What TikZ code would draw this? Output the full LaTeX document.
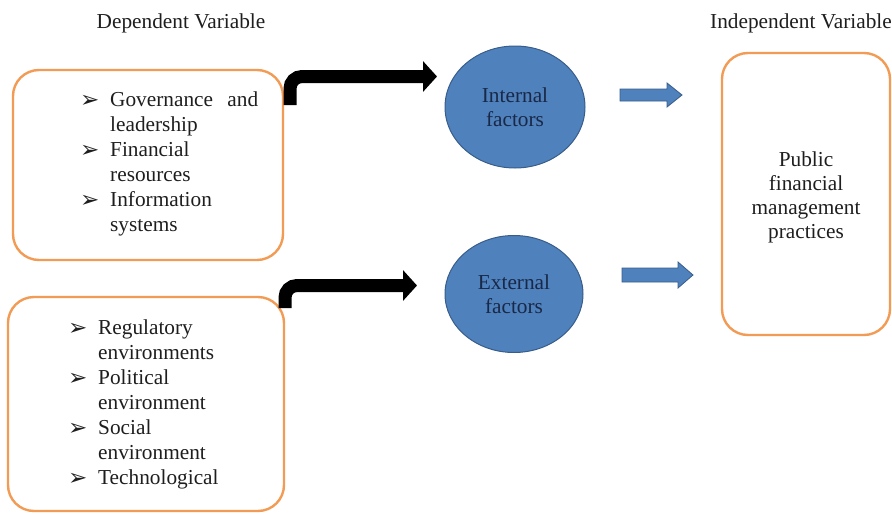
\documentclass[tikz,border=0pt]{standalone}
\usepackage{fontspec}
\setmainfont{Liberation Serif}
\newfontfamily\dingfont{DejaVu Sans}
\usetikzlibrary{arrows.meta,shapes.geometric}
\definecolor{boxorange}{RGB}{242,155,85}
\definecolor{ellblue}{RGB}{79,129,189}
\definecolor{ellborder}{RGB}{56,93,138}
\definecolor{elltext}{RGB}{25,40,70}
\definecolor{txt}{RGB}{30,30,30}
\tikzset{
  varbox/.style={draw=boxorange, line width=2.4pt, rounded corners=26pt},
  factor/.style={ellipse, fill=ellblue, draw=ellborder, line width=1pt, inner sep=0pt,
                 text=elltext, align=center, font=\fontsize{21.3}{24}\selectfont},
  line/.style={anchor=base west, inner sep=0pt, text=txt, font=\fontsize{21.3}{25}\selectfont},
  bul/.style={anchor=base west, inner sep=0pt, text=txt, font=\dingfont\fontsize{23}{25}\selectfont},
  bent/.style={line width=13pt, rounded corners=12pt, -{Triangle[length=14pt,width=30pt]}},
  blockarrow/.style={fill=ellblue, draw=ellborder, line width=0.8pt, line join=miter}
}
\begin{document}
\begin{tikzpicture}[x=1pt,y=-1pt]
\useasboundingbox (0,0) rectangle (892,514);
% headings
\node (dv) [line, anchor=base] at (181,28) {Dependent Variable};
\node (iv) [line, anchor=base west] at (710,28) {Independent Variable};
% boxes
\draw[varbox] (13,70) rectangle (283,260);
\draw[varbox] (8,297) rectangle (284,511);
\draw[varbox] (722,53) rectangle (890,335);
% box 1 text
\node (b1a) [bul] at (80,107) {➢};
\node (t1a) [line] at (110,106) {\makebox[148pt][s]{Governance and}};
\node (t1b) [line] at (110,131) {leadership};
\node (b1c) [bul] at (80,157) {➢};
\node (t1c) [line] at (110,156) {Financial};
\node (t1d) [line] at (110,181) {resources};
\node (b1e) [bul] at (80,207) {➢};
\node (t1e) [line] at (110,206) {Information};
\node (t1f) [line] at (110,231) {systems};
% box 2 text
\node (b2a) [bul] at (68,335) {➢};
\node (t2a) [line] at (98,334) {Regulatory};
\node (t2b) [line] at (98,359) {environments};
\node (b2c) [bul] at (68,385) {➢};
\node (t2c) [line] at (98,384) {Political};
\node (t2d) [line] at (98,409) {environment};
\node (b2e) [bul] at (68,435) {➢};
\node (t2e) [line] at (98,434) {Social};
\node (t2f) [line] at (98,459) {environment};
\node (b2g) [bul] at (68,485) {➢};
\node (t2g) [line] at (98,484) {Technological};
% factors
\node (int) [factor, minimum width=140pt, minimum height=122pt] at (515,107) {Internal\\factors};
\node (ext) [factor, minimum width=138pt, minimum height=117pt] at (514,294) {External\\factors};
% result text
\node (pfm) [align=center, inner sep=0pt, text=txt, font=\fontsize{21.3}{24}\selectfont] at (806,197)
  {Public\\financial\\management\\practices};
% bent arrows
\coordinate (a1s) at (290,105);
\coordinate (a1e) at (437,76.5);
\coordinate (a2s) at (285,308);
\coordinate (a2e) at (417,285.5);
\draw[bent] (a1s) |- (a1e);
\draw[bent] (a2s) |- (a2e);
% block arrows
\coordinate (ba1) at (620,95);
\coordinate (ba2) at (622,275);
\draw[blockarrow] (ba1) ++(0,-6) -- ++(47,0) -- ++(0,-6) -- ++(15,12) -- ++(-15,12) -- ++(0,-6) -- ++(-47,0) -- cycle;
\draw[blockarrow] (ba2) ++(0,-7) -- ++(56,0) -- ++(0,-6) -- ++(15,13) -- ++(-15,13) -- ++(0,-6) -- ++(-56,0) -- cycle;
\end{tikzpicture}
\end{document}
